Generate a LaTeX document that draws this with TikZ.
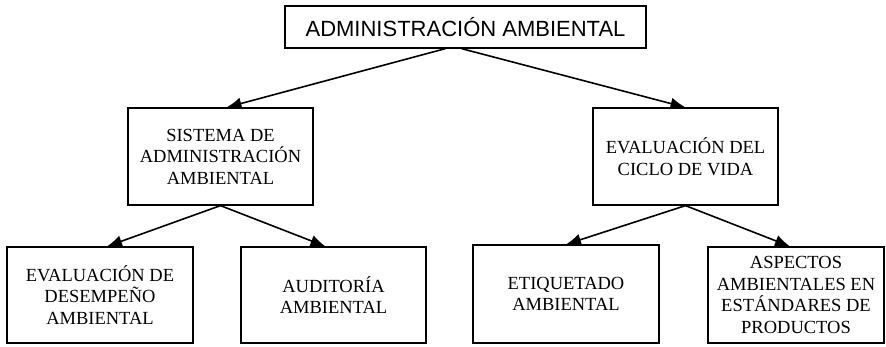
\documentclass[tikz,border=0pt]{standalone}
\usepackage{fontspec}
\setmainfont{Liberation Serif}
\newfontfamily\arialfont{Liberation Sans}
\usetikzlibrary{arrows.meta}

\tikzset{
  caja/.style={draw, line width=1.2pt, align=center, inner sep=0pt,
    font=\fontsize{18.5}{21.5}\selectfont},
  flecha/.style={line width=1.6pt, -{Latex[length=15pt,width=12pt]}}
}

\begin{document}
\begin{tikzpicture}[x=1pt, y=-1pt]
\useasboundingbox (0,0) rectangle (886,346);
%%%%% Cajas %%%%%
\node[caja, minimum width=361pt, minimum height=42pt,
  font=\arialfont\fontsize{22}{24}\selectfont] (raiz) at (465.5,27) {ADMINISTRACIÓN AMBIENTAL};
\node[caja, minimum width=185pt, minimum height=97pt] (sistema) at (220.5,156.5)
  {SISTEMA DE\\ADMINISTRACIÓN\\AMBIENTAL};
\node[caja, minimum width=185pt, minimum height=97pt] (ciclo) at (685.5,156.5)
  {EVALUACIÓN DEL\\CICLO DE VIDA};
\node[caja, minimum width=186pt, minimum height=96pt] (desempeno) at (100,295)
  {EVALUACIÓN DE\\DESEMPEÑO\\AMBIENTAL};
\node[caja, minimum width=185pt, minimum height=96pt] (auditoria) at (333.5,295)
  {AUDITORÍA\\AMBIENTAL};
\node[caja, minimum width=186pt, minimum height=98pt] (etiquetado) at (566,294)
  {ETIQUETADO\\AMBIENTAL};
\node[caja, minimum width=176pt, minimum height=96pt] (aspectos) at (796,295)
  {ASPECTOS\\AMBIENTALES EN\\ESTÁNDARES DE\\PRODUCTOS};
%%%%% Flechas %%%%%
\draw[flecha] ([xshift=-20pt]raiz.south) -- ([xshift=6pt]sistema.north);
\draw[flecha] ([xshift=-4pt]raiz.south) -- (ciclo.north);
\draw[flecha] (sistema.south) -- ([xshift=7pt]desempeno.north);
\draw[flecha] (sistema.south) -- ([xshift=-8pt]auditoria.north);
\draw[flecha] (ciclo.south) -- (etiquetado.north);
\draw[flecha] (ciclo.south) -- ([xshift=-6pt]aspectos.north);
\end{tikzpicture}
\end{document}
